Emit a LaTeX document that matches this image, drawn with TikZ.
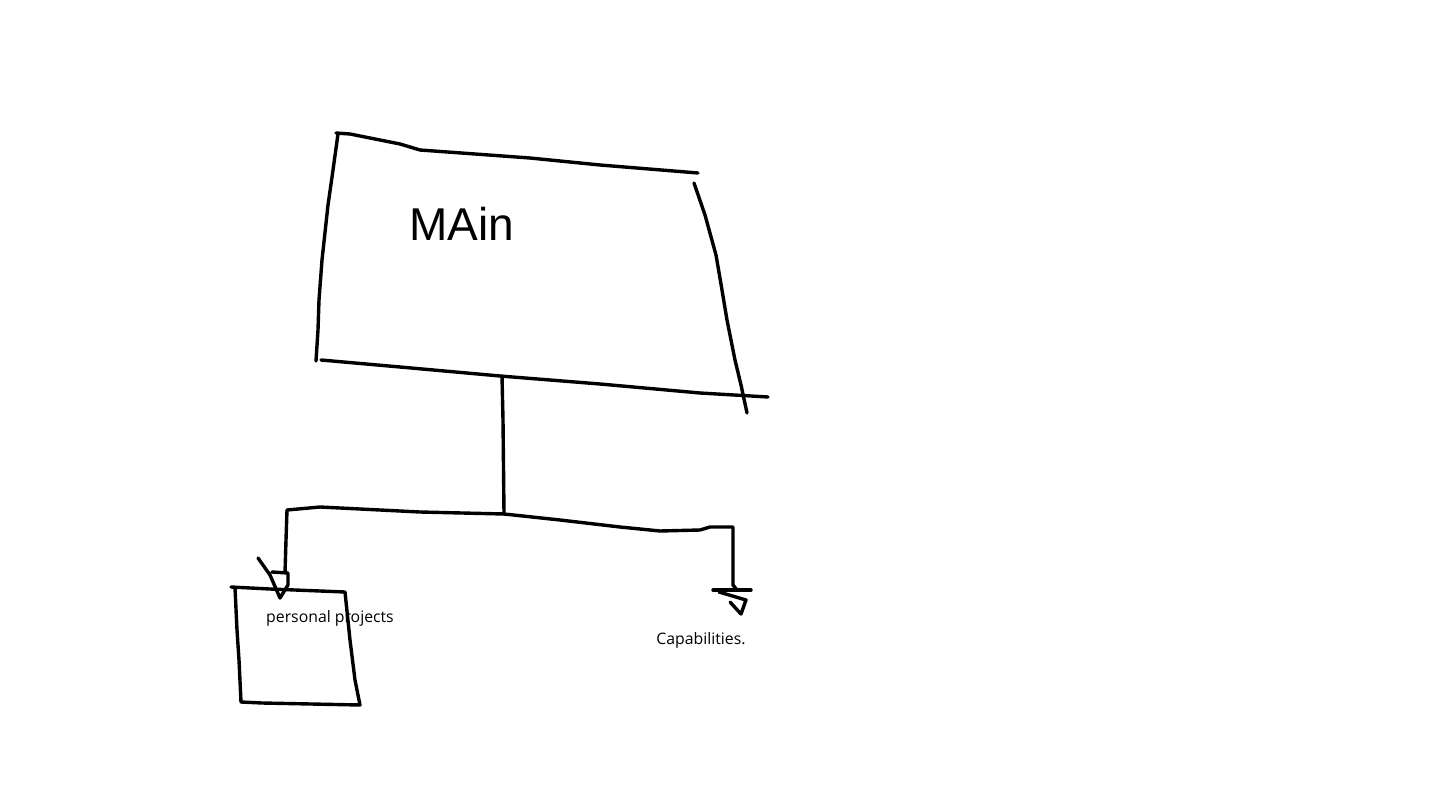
\documentclass[tikz,border=0pt]{standalone}
\usepackage{fontspec}
\setmainfont{Open Sans}
\newfontfamily\handfont{Liberation Sans}
\begin{document}
\begin{tikzpicture}[x=1pt,y=-1pt,
  pen/.style={line width=3.4pt,line join=round,line cap=round,black},
  lbl/.style={inner sep=0pt,font=\fontsize{15.8}{18}\selectfont,text=black}]
\useasboundingbox (0,0) rectangle (1447,791);
% main box
\draw[pen] (336,133) -- (350,134) -- (400,144) -- (420,150) -- (530,158) -- (600,165) -- (698,173);
\draw[pen] (338,134) -- (333,170) -- (328,205) -- (322,260) -- (319,300) -- (318,330) -- (316,361);
\draw[pen] (694,183) -- (705,215) -- (716,255) -- (722,290) -- (727,320) -- (735,360) -- (741,385) -- (747,413);
\draw[pen] (321,360) -- (400,367) -- (500,376) -- (600,384) -- (700,393) -- (768,397);
\node[font=\handfont\fontsize{46}{50}\selectfont,inner sep=0pt] (main) at (462,224) {MAin};
% connectors
\coordinate (stem) at (502,376);
\coordinate (split) at (504,514);
\draw[pen] (stem) -- (503,420) -- (split);
\draw[pen] (split) -- (420,512) -- (320,507) -- (287,510) -- (286,540) -- (285,573);
\draw[pen] (258,558) -- (270,575) -- (280,598) -- (288,585) -- (288,573) -- (272,572);
\draw[pen] (split) -- (560,520) -- (620,527) -- (660,531) -- (700,530) -- (710,527) -- (733,527) -- (733,585) -- (737,590);
\draw[pen] (713,590) -- (751,590);
\draw[pen] (719,592) -- (746,600) -- (741,614) -- (730,602);
% small box
\draw[pen] (231,587) -- (270,589) -- (345,592) -- (350,640) -- (355,680) -- (360,705) -- (262,703) -- (241,702) -- (239,660) -- (237,630) -- (235,588);
% labels
\node[lbl] (pp) at (330,618) {personal projects};
\node[lbl] (cap) at (701,640) {Capabilities.};
\end{tikzpicture}
\end{document}
